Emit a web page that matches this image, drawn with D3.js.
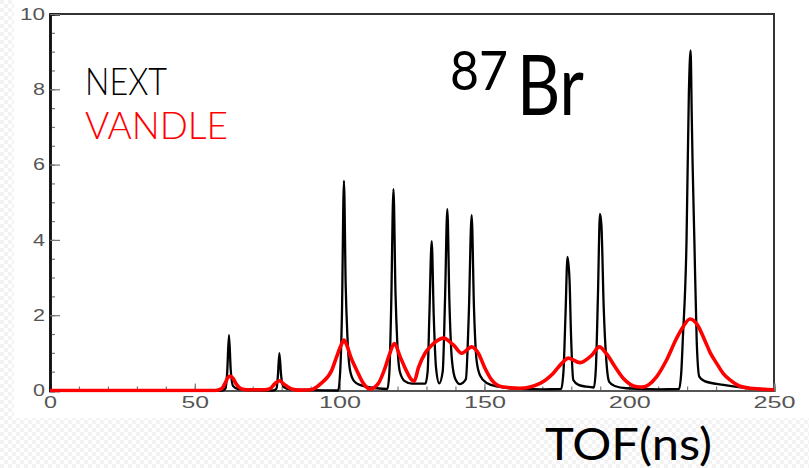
<!DOCTYPE html>
<html>
<head>
<meta charset="utf-8">
<script src="https://cdn.jsdelivr.net/npm/d3@7/dist/d3.min.js"></script>
<style>
  html, body { margin: 0; padding: 0; background: #fff; }
  svg { display: block; }
</style>
</head>
<body>
<svg id="chart" width="809" height="468"></svg>
<script>
// Time-of-flight spectra for 87Br: NEXT vs VANDLE response (TOF in ns, counts in arb. units)
const nextSpectrum = [
  [0,0],[59.5,0],[60.6,0.05],[61.2,0.5],[61.8,1.47],[62.4,0.55],[63.2,0.12],[65,0.04],[70,0.01],
  [77,0],[78.2,0.05],[78.7,0.4],[79.2,0.99],[79.8,0.4],[80.6,0.1],[83,0.03],[90,0.01],
  [99.5,0],[100.2,0.5],[100.8,2.0],[101.5,5.57],[102.1,2.8],[102.7,1.43],[103.6,0.54],[105,0.25],
  [107,0.15],[112.8,0.06],[116.5,0.04],[117.2,0.5],[117.8,2.2],[118.6,5.35],[119.3,2.6],[119.9,1.3],
  [120.8,0.5],[122.5,0.25],[125,0.18],[129.6,0.18],[130.4,0.5],[131,2.0],[131.8,3.97],[132.5,2.0],
  [133.3,0.6],[134.4,0.19],[135.6,0.5],[136.4,2.4],[137.2,4.82],[137.9,2.4],[138.8,0.8],[140,0.3],
  [141.6,0.17],[143.6,0.3],[144.6,2.0],[145.6,4.66],[146.4,2.2],[147.3,0.8],[148.5,0.4],[150.8,0.2],
  [155,0.1],[158.8,0.06],[170,0.03],[176.5,0.04],[177.3,0.5],[178,2.0],[178.7,3.55],[179.4,2.93],
  [179.9,1.5],[180.7,0.28],[182.5,0.15],[185.3,0.1],[187.8,0.08],[188.5,0.6],[189.2,2.5],[189.9,4.69],
  [190.4,4.4],[191.2,2.2],[192.1,0.8],[193.1,0.23],[195,0.12],[199.1,0.06],[210,0.03],[217.2,0.04],
  [218,0.5],[218.5,1.34],[219.8,4.0],[220.6,7.89],[221.2,9.03],[221.6,7.3],[221.9,6.0],[222.5,4.0],
  [223.3,1.34],[224.2,0.37],[226,0.25],[232.5,0.15],[241.7,0.06],[250,0.03]
];

const vandleSpectrum = [
  [0,0],[57,0],[59.3,0.05],[60.5,0.2],[61.3,0.33],[62.2,0.385],[63.2,0.32],[64.3,0.17],[66.2,0.04],
  [68,0.02],[74,0.02],[76,0.05],[77.5,0.17],[79.2,0.26],[80.8,0.17],[83.4,0.04],[86,0.01],[90,0.02],
  [93.6,0.19],[97.3,0.54],[99,0.9],[100.5,1.2],[101.5,1.34],[102.5,1.2],[103.8,0.9],[105.9,0.54],
  [108.2,0.19],[110.5,0.04],[113.4,0.19],[115.7,0.6],[117.4,1.0],[118.9,1.25],[120.9,0.9],[122.6,0.6],
  [124.9,0.28],[125.8,0.25],[127.2,0.6],[129.5,0.99],[131.8,1.2],[135.8,1.39],[139.3,1.21],[142.2,0.99],
  [145.6,1.16],[147.9,0.99],[150.2,0.59],[152.5,0.28],[156,0.1],[162.3,0.06],[169.2,0.19],[173.8,0.46],
  [176.7,0.72],[179,0.86],[183,0.74],[187.1,0.94],[189.7,1.16],[192.2,0.97],[195.1,0.63],[198,0.32],
  [202.6,0.1],[204.5,0.09],[209.5,0.37],[212.9,0.81],[216.2,1.36],[218.5,1.68],[221,1.9],[223.5,1.75],
  [226,1.35],[228,1.0],[230.2,0.72],[232.5,0.45],[234.8,0.28],[238,0.12],[241.7,0.06],[250,0.02]
];

const xMajorTicks = [0, 50, 100, 150, 200, 250];
const xMinorTicks = d3.range(0, 251, 10);
const yMajorTicks = [0, 2, 4, 6, 8, 10];
const yMinorTicks = d3.range(0, 10.01, 0.5);

const legendLabels = ["NEXT", "VANDLE"];
const legendColors = ["#000000", "#ff0000"];

const svg = d3.select("#chart");
const W = 809, H = 468;
const plot = { left: 50, right: 774, top: 14, bottom: 390.5 };

// faint checker backdrop around the figure edge
const defs = svg.append("defs");
const pat = defs.append("pattern").attr("id", "checker")
  .attr("width", 8).attr("height", 8).attr("patternUnits", "userSpaceOnUse");
pat.append("rect").attr("width", 8).attr("height", 8).attr("fill", "#ffffff");
pat.append("rect").attr("width", 4).attr("height", 4).attr("fill", "#f3f3f3");
pat.append("rect").attr("x", 4).attr("y", 4).attr("width", 4).attr("height", 4).attr("fill", "#f3f3f3");
svg.append("rect").attr("x", 0).attr("y", 418).attr("width", W).attr("height", H - 418).attr("fill", "url(#checker)");
svg.append("rect").attr("x", 0).attr("y", 0).attr("width", 14).attr("height", 418).attr("fill", "url(#checker)");

defs.append("clipPath").attr("id", "plotClip").append("rect")
  .attr("x", plot.left).attr("y", plot.top)
  .attr("width", plot.right - plot.left).attr("height", plot.bottom - plot.top + 2);

const x = d3.scaleLinear().domain([0, 250]).range([plot.left, plot.right]);
const y = d3.scaleLinear().domain([0, 10]).range([plot.bottom, plot.top]);

// frame (top and right)
svg.append("path")
  .attr("d", `M${plot.left},${plot.top}H${plot.right}V${plot.bottom}`)
  .attr("fill", "none").attr("stroke", "#333").attr("stroke-width", 2);

// x axis
const gx = svg.append("g").attr("transform", `translate(0,${plot.bottom})`);
gx.append("g").call(d3.axisBottom(x).tickValues(xMinorTicks).tickSize(-4).tickFormat(""));
gx.append("g").call(d3.axisBottom(x).tickValues(xMajorTicks).tickSize(-7).tickPadding(6).tickFormat(d3.format("d")));
gx.selectAll(".domain").attr("stroke", "#555").attr("stroke-width", 2);
gx.selectAll(".tick line").attr("stroke", "#777").attr("stroke-width", 1.2);
gx.selectAll(".tick text")
  .attr("fill", "#555").attr("font-family", "Liberation Sans, Arial, sans-serif").attr("font-size", 16)
  .attr("textLength", function () { return this.textContent.length * 14.5 - 1.5; })
  .attr("lengthAdjust", "spacingAndGlyphs");

// y axis
const gy = svg.append("g").attr("transform", `translate(${plot.left},0)`);
gy.append("g").call(d3.axisLeft(y).tickValues(yMinorTicks).tickSize(-5).tickFormat(""));
gy.append("g").call(d3.axisLeft(y).tickValues(yMajorTicks).tickSize(-10).tickPadding(5).tickFormat(d3.format("d")));
gy.selectAll(".domain").attr("stroke", "#111").attr("stroke-width", 2.5);
gy.selectAll(".tick line").attr("stroke", "#777").attr("stroke-width", 1.2);
gy.selectAll(".tick text")
  .attr("fill", "#555").attr("font-family", "Liberation Sans, Arial, sans-serif").attr("font-size", 16)
  .attr("textLength", function () { return this.textContent.length * 13 - 1; })
  .attr("lengthAdjust", "spacingAndGlyphs");

// spectra
const line = d3.line().x(d => x(d[0])).y(d => y(d[1])).curve(d3.curveMonotoneX);
const curves = svg.append("g").attr("clip-path", "url(#plotClip)");
curves.append("path").datum(nextSpectrum).attr("d", line)
  .attr("fill", "none").attr("stroke", legendColors[0]).attr("stroke-width", 2.3).attr("stroke-linejoin", "round");
curves.append("path").datum(vandleSpectrum).attr("d", line)
  .attr("fill", "none").attr("stroke", legendColors[1]).attr("stroke-width", 3.6).attr("stroke-linejoin", "round");

// legend
const legendFont = "Lato, 'Open Sans', sans-serif";
svg.selectAll(".legend").data(legendLabels).join("text")
  .attr("class", "legend")
  .attr("x", 85).attr("y", (d, i) => 95 + i * 44)
  .attr("fill", (d, i) => legendColors[i])
  .attr("font-family", legendFont).attr("font-weight", 300).attr("font-size", 37)
  .attr("textLength", (d, i) => i === 0 ? 82 : 143).attr("lengthAdjust", "spacingAndGlyphs")
  .text(d => d);

// nucleus label
const nuc = svg.append("g").attr("font-family", legendFont).attr("fill", "#000");
nuc.append("text").attr("x", 450).attr("y", 90).attr("font-size", 54)
  .attr("textLength", 58).attr("lengthAdjust", "spacingAndGlyphs").text("87");
nuc.append("text").attr("x", 517).attr("y", 115).attr("font-size", 83)
  .attr("textLength", 67).attr("lengthAdjust", "spacingAndGlyphs").text("Br");

// axis title
svg.append("text").attr("x", 545).attr("y", 460)
  .attr("font-family", legendFont).attr("font-size", 44).attr("fill", "#000")
  .attr("textLength", 167).attr("lengthAdjust", "spacingAndGlyphs")
  .text("TOF(ns)");
</script>
</body>
</html>
